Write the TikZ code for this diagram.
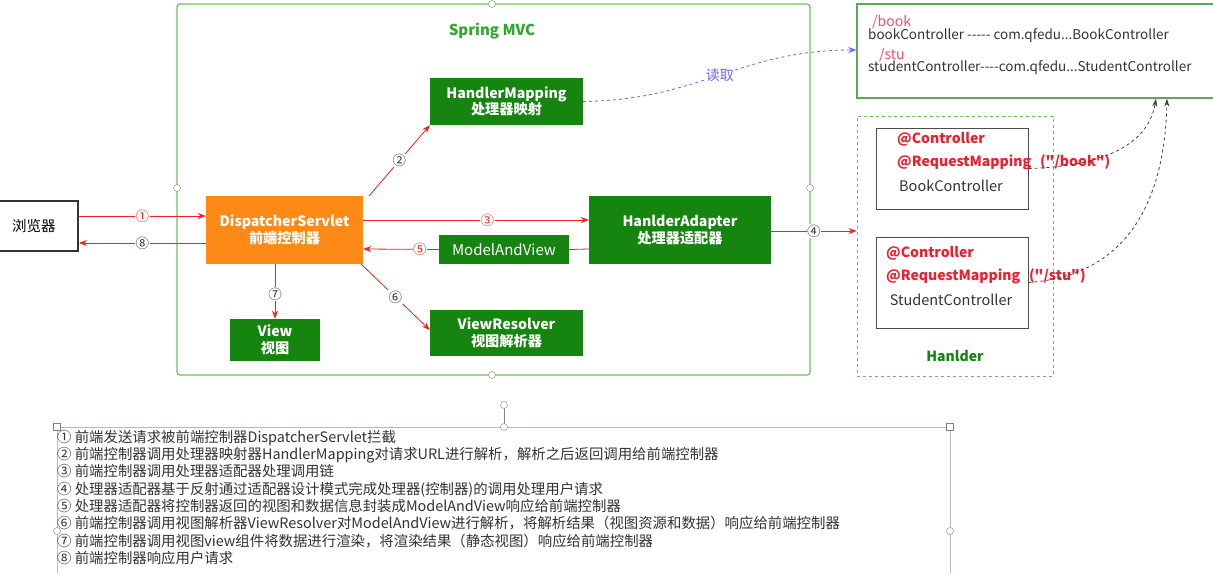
\documentclass[tikz,border=0pt]{standalone}
\usepackage{fontspec}
\setmainfont{Noto Sans CJK SC}[Ligatures=TeXOff]
\usetikzlibrary{positioning,calc}
\usetikzlibrary{arrows.meta}

\definecolor{boxgreen}{HTML}{15850F}
\definecolor{dsorange}{HTML}{FD8A16}
\definecolor{mvcline}{HTML}{6CC35A}
\definecolor{mvctext}{HTML}{2EA82E}
\definecolor{flowred}{HTML}{F52025}
\definecolor{mapline}{HTML}{5AA85A}
\definecolor{pathred}{HTML}{F0506E}
\definecolor{annored}{HTML}{F01E2C}
\definecolor{readblue}{HTML}{6A6AF0}
\definecolor{txtgray}{HTML}{333333}
\definecolor{handle}{HTML}{C8B4B4}

\begin{document}
\begin{tikzpicture}[x=1pt,y=-1pt,>=Stealth,
  gbox/.style={fill=boxgreen,text=white,align=center,inner sep=0pt,
    font=\fontsize{14.2}{16.5}\selectfont\bfseries},
  flow/.style={draw=flowred,line width=0.8pt,-{Stealth[length=8pt,width=6pt]}},
  num/.style={fill=white,inner sep=0.6pt,font=\fontsize{13.5}{13.5}\selectfont},
  ctrl/.style={draw=black!70,line width=1pt,minimum width=152pt,inner sep=0pt},
  anno/.style={text=annored,anchor=west,inner sep=0pt,font=\fontsize{14}{16}\selectfont\bfseries},
  hdl/.style={circle,draw=gray,fill=white,inner sep=0pt,minimum size=7pt}]

\clip (0,0) rectangle (1213,573);
\fill[white] (0,0) rectangle (1213,573);

% Spring MVC container
\draw[mvcline,line width=1.3pt,rounded corners=3pt] (177,4) rectangle (810,375);
\node[text=mvctext,font=\fontsize{15}{17}\selectfont\bfseries] (mvc) at (492,31) {Spring MVC};

% components
\node[draw=black!80,line width=1.8pt,fill=white,minimum width=88pt,minimum height=50pt,
  font=\fontsize{14.5}{16}\selectfont] (browser) at (34,226) {浏览器};
\node[gbox,fill=dsorange,minimum width=157pt,minimum height=68pt] (ds) at (284.5,230)
  {DispatcherServlet\\前端控制器};
\node[gbox,minimum width=153pt,minimum height=47pt] (hm) at (506.5,101.5)
  {HandlerMapping\\处理器映射};
\node[gbox,minimum width=182pt,minimum height=68pt] (ha) at (680,230)
  {HanlderAdapter\\处理器适配器};
\node[gbox,font=\fontsize{15}{17}\selectfont,minimum width=130pt,minimum height=29pt] (mav)
  at (504,249.5) {ModelAndView};
\node[gbox,minimum width=90pt,minimum height=42pt] (view) at (275,340) {View\\视图};
\node[gbox,minimum width=153pt,minimum height=46pt] (vr) at (506.5,333)
  {ViewResolver\\视图解析器};

% flow arrows
\draw[flow] (browser.east |- 0,216) -- node[num,text=flowred]{①} (ds.west |- 0,216);
\draw[flow] (ds.west |- 0,243) -- node[num,text=txtgray]{⑧} (browser.east |- 0,243);
\draw[flow] (369,196) -- node[num,text=txtgray]{②} (hm.south west);
\draw[flow] (ds.east |- 0,220) -- node[num,text=flowred,pos=0.55]{③} (ha.west |- 0,220);
\draw[flowred,line width=0.8pt] (ha.west |- 0,249) -- (mav.east);
\draw[flow] (mav.west) -- node[num,text=flowred,pos=0.25]{⑤} (ds.east |- 0,249);
\draw[flow] (view.north |- ds.south) -- node[num,text=txtgray,pos=0.55]{⑦} (view.north);
\draw[flow] (361,264) -- node[num,text=txtgray]{⑥} (vr.west |- 0,330);

% mapping table
\node[draw=mapline,line width=1.3pt,minimum width=363pt,minimum height=94pt,inner sep=0pt]
  (map) at (1038.5,51) {};
\node[text=pathred,anchor=west,inner sep=0pt,font=\fontsize{14}{16}\selectfont] (pbook)
  at (872,22) {/book};
\node[text=txtgray,anchor=west,inner sep=0pt,font=\fontsize{13.5}{15}\selectfont] (mbook)
  at (868,36) {bookController ----- com.qfedu...BookController};
\node[text=pathred,anchor=west,inner sep=0pt,font=\fontsize{14}{16}\selectfont] (pstu)
  at (879,55) {/stu};
\node[text=txtgray,anchor=west,inner sep=0pt,font=\fontsize{13.5}{15}\selectfont] (mstu)
  at (868,68) {studentController----com.qfedu...StudentController};

\draw[readblue,dashed,line width=0.8pt,-{Stealth[length=8pt,width=6pt]}]
  (hm.east) .. controls (700,100) and (740,50) .. node[fill=white,inner sep=1pt,
  font=\fontsize{14}{16}\selectfont]{读取} (map.west |- 0,50);

% handler
\node[draw=mvcline,dashed,line width=1pt,minimum width=196pt,minimum height=260pt,inner sep=0pt]
  (hanlder) at (955,246) {};
\node[text=boxgreen,font=\fontsize{14}{16}\selectfont\bfseries] (hlab) at (955,356) {Hanlder};

\node[ctrl,minimum height=81pt] (bc) at (952,168.5) {};
\node[anno] (bc1) at (897,139) {@Controller};
\node[anno] (bc2) at (897,162) {@RequestMapping\hspace{9pt}("/book")};
\node[text=txtgray,font=\fontsize{14.5}{16}\selectfont] (bc3) at (951,186) {BookController};

\node[ctrl,minimum height=91pt] (sc) at (952,282.5) {};
\node[anno] (sc1) at (886,253) {@Controller};
\node[anno] (sc2) at (886,276) {@RequestMapping\hspace{9pt}("/stu")};
\node[text=txtgray,font=\fontsize{14.5}{16}\selectfont] (sc3) at (951,300) {StudentController};

\draw[flow] (ha.east |- 0,231) -- node[num,text=txtgray]{④} (hanlder.west |- 0,231);

\draw[black!75,dashed,line width=0.8pt,-{Stealth[length=8pt,width=5pt]}]
  (bc.east) .. controls (1120,166) and (1150,135) .. (map.south -| 1156,0);
\draw[black!75,dashed,line width=0.8pt,-{Stealth[length=8pt,width=5pt]}]
  (sc.east) .. controls (1135,275) and (1165,190) .. (map.south -| 1167,0);

% steps text box
\draw[handle,line width=0.8pt] (57,573) -- (57,427) -- (950,427) -- (950,573);
\draw[gray,line width=0.6pt] (504,405) -- (504,427);
\node[text=txtgray,anchor=north west,align=left,inner sep=0pt,
  font=\fontsize{14.4}{17.3}\selectfont] (steps) at (57,430) {%
① 前端发送请求被前端控制器DispatcherServlet拦截\\
② 前端控制器调用处理器映射器HandlerMapping对请求URL进行解析，解析之后返回调用给前端控制器\\
③ 前端控制器调用处理器适配器处理调用链\\
④ 处理器适配器基于反射通过适配器设计模式完成处理器(控制器)的调用处理用户请求\\
⑤ 处理器适配器将控制器返回的视图和数据信息封装成ModelAndView响应给前端控制器\\
⑥ 前端控制器调用视图解析器ViewResolver对ModelAndView进行解析，将解析结果（视图资源和数据）响应给前端控制器\\
⑦ 前端控制器调用视图view组件将数据进行渲染，将渲染结果（静态视图）响应给前端控制器\\
⑧ 前端控制器响应用户请求};

% selection handles
\foreach \hx/\hy in {177/188,492/4,810/188,492/375,504/405,504/427,950/531,57/531}
  \node[hdl] at (\hx,\hy) {};
\foreach \hx/\hy in {57/427,950/427}
  \node[draw=gray,fill=white,inner sep=0pt,minimum size=7pt] at (\hx,\hy) {};

\end{tikzpicture}
\end{document}
